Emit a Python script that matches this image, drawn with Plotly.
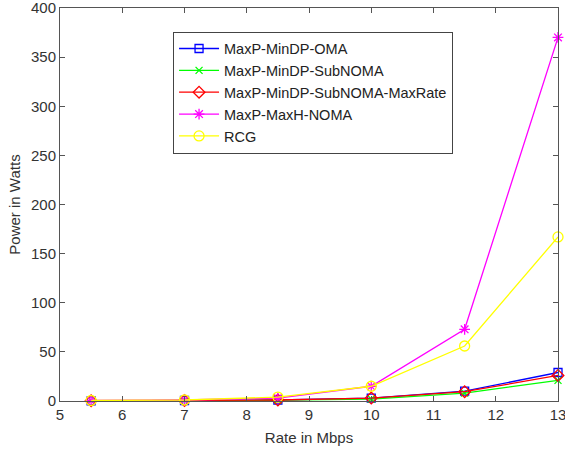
import plotly.graph_objects as go

rate = [5.5, 7, 8.5, 10, 11.5, 13]
oma = [0.2, 0.5, 1.0, 3.0, 10.0, 29.0]
subnoma = [0.2, 0.4, 0.8, 2.0, 8.0, 21.0]
maxrate = [0.2, 0.5, 1.0, 3.0, 9.5, 26.0]
maxh_noma = [0.5, 1.0, 3.0, 15.0, 73.0, 370.0]
rcg = [0.5, 1.0, 4.0, 15.0, 56.0, 167.0]

names = ["MaxP-MinDP-OMA", "MaxP-MinDP-SubNOMA", "MaxP-MinDP-SubNOMA-MaxRate",
         "MaxP-MaxH-NOMA", "RCG"]
series = [oma, subnoma, maxrate, maxh_noma, rcg]
colors = ["#0000FF", "#00FF00", "#FF0000", "#FF00FF", "#FFFF00"]
symbols = ["square-open", "x-thin-open", "diamond-open", "asterisk-open", "circle-open"]
sizes = [8, 7, 9, 9, 10]

FONT = "Liberation Sans, Arial"
fig = go.Figure()
for n, s, c, sym, sz in zip(names, series, colors, symbols, sizes):
    fig.add_trace(go.Scatter(x=rate, y=s, name=n, mode="lines+markers", cliponaxis=False,
                             line=dict(color=c, width=1.3),
                             marker=dict(symbol=sym, size=sz, color=c,
                                         line=dict(color=c, width=1.3))))

axis_common = dict(showgrid=False, zeroline=False, showline=True, linecolor="#555555",
                   linewidth=1, mirror="ticks", ticks="inside", ticklen=5,
                   tickcolor="#555555", automargin=False,
                   tickfont=dict(family=FONT, size=15, color="#333333"))
fig.update_xaxes(range=[5, 13], dtick=1, ticklabeloverflow="allow",
                 title=dict(text="Rate in Mbps", standoff=10,
                            font=dict(family=FONT, size=15, color="#333333")), **axis_common)
fig.update_yaxes(range=[0, 400], dtick=50, ticklabeloverflow="allow",
                 title=dict(text="Power in Watts", standoff=6,
                            font=dict(family=FONT, size=15, color="#333333")), **axis_common)

fig.update_layout(
    width=565, height=452,
    margin=dict(l=60, r=7, t=8, b=51),
    paper_bgcolor="white", plot_bgcolor="white",
    font=dict(family=FONT, size=15, color="#222222"),
    legend=dict(x=0.227, y=0.94, xanchor="left", yanchor="top",
                bgcolor="white", bordercolor="#444444", borderwidth=1,
                font=dict(family=FONT, size=14.5, color="#222222"),
                tracegroupgap=0, itemwidth=40),
    showlegend=True,
)
fig.write_html("out.html", config={"displayModeBar": False},
               post_script="document.body.style.margin='0';document.body.style.overflow='hidden';")
